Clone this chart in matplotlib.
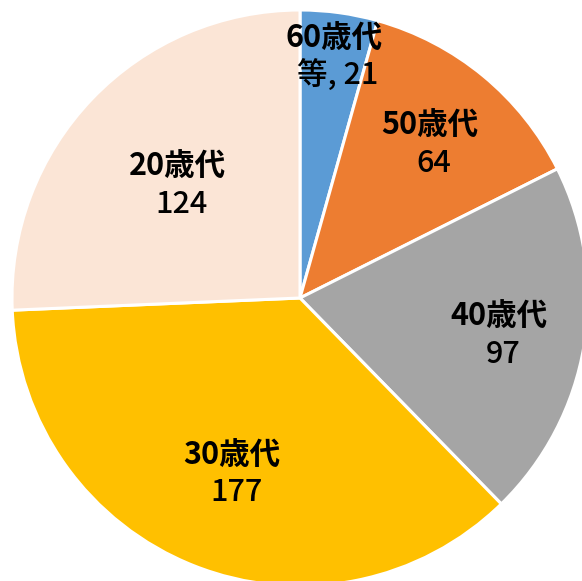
import matplotlib.pyplot as plt
import numpy as np

plt.rcParams['font.family'] = ['Noto Sans CJK JP', 'DejaVu Sans']

# data, clockwise from 12 o'clock
groups = ['60歳代', '50歳代', '40歳代', '30歳代', '20歳代']
value_text = ['等, 21', '64', '97', '177', '124']
counts = [21, 64, 97, 177, 124]
colors = ['#5B9BD5', '#ED7D31', '#A5A5A5', '#FFC000', '#FBE5D6']

# radial spot for each label (fraction of radius)
label_r = [0.86, 0.71, 0.70, 0.64, 0.59]

fig = plt.figure(figsize=(5.82, 5.81), dpi=100)
ax = fig.add_axes([0, 0, 1, 1])

wedges, _ = ax.pie(counts, colors=colors, startangle=90, counterclock=False,
                   radius=1.0, wedgeprops=dict(edgecolor='white', linewidth=2.2))

for w, name, val, r in zip(wedges, groups, value_text, label_r):
    mid = np.deg2rad((w.theta1 + w.theta2) / 2)
    x, y = r * np.cos(mid), r * np.sin(mid)
    ax.annotate(name, (x, y), xytext=(0, 10), textcoords='offset points',
                ha='center', va='center', fontsize=22, fontweight='bold')
    ax.annotate(val, (x, y), xytext=(3, -17), textcoords='offset points',
                ha='center', va='center', fontsize=22, fontweight='medium')

ax.set_xlim(-300 / 288, 282 / 288)
ax.set_ylim(-283 / 288, 298 / 288)
ax.set_aspect('equal')
ax.axis('off')

fig.savefig('out.png', dpi=100)
